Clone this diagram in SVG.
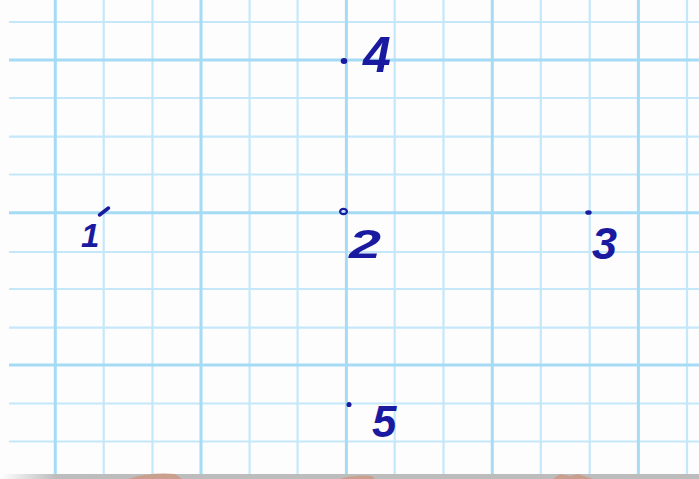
<svg xmlns="http://www.w3.org/2000/svg" width="699" height="479" viewBox="0 0 699 479">
<defs>
<linearGradient id="shadow" x1="0" y1="0" x2="1" y2="0">
<stop offset="0" stop-color="#ffffff"/>
<stop offset="0.08" stop-color="#bdbdbd"/>
<stop offset="1" stop-color="#bcbcbc"/>
</linearGradient>
</defs>
<style>
.thin{stroke:#c4e8f9;stroke-width:2.2}
.thick{stroke:#a6dbf5;stroke-width:3}
.ink{fill:#1a1aa0;font-family:"Liberation Sans","DejaVu Sans",sans-serif;font-style:italic;font-weight:bold}
.dot{fill:#1a1aa0}
.wm{fill:#c9a08e}
</style>
<rect width="699" height="479" fill="#fdfdfd"/>
<g id="grid">
<g class="thin">
<line x1="103.7" y1="0" x2="103.7" y2="474"/>
<line x1="152.5" y1="0" x2="152.5" y2="474"/>
<line x1="249.6" y1="0" x2="249.6" y2="474"/>
<line x1="297.6" y1="0" x2="297.6" y2="474"/>
<line x1="394.7" y1="0" x2="394.7" y2="474"/>
<line x1="443.5" y1="0" x2="443.5" y2="474"/>
<line x1="540.8" y1="0" x2="540.8" y2="474"/>
<line x1="589.7" y1="0" x2="589.7" y2="474"/>
<line x1="687" y1="0" x2="687" y2="474"/>
<line x1="9" y1="22" x2="699" y2="22"/>
<line x1="9" y1="98" x2="699" y2="98"/>
<line x1="9" y1="136.7" x2="699" y2="136.7"/>
<line x1="9" y1="174.5" x2="699" y2="174.5"/>
<line x1="9" y1="252" x2="699" y2="252"/>
<line x1="9" y1="289" x2="699" y2="289"/>
<line x1="9" y1="327.7" x2="699" y2="327.7"/>
<line x1="9" y1="403.5" x2="699" y2="403.5"/>
<line x1="9" y1="441.5" x2="699" y2="441.5"/>
</g>
<g class="thick">
<line x1="55.3" y1="0" x2="55.3" y2="474"/>
<line x1="201" y1="0" x2="201" y2="474"/>
<line x1="346.4" y1="0" x2="346.4" y2="474"/>
<line x1="492.3" y1="0" x2="492.3" y2="474"/>
<line x1="638.4" y1="0" x2="638.4" y2="474"/>
<line x1="9" y1="60" x2="699" y2="60"/>
<line x1="9" y1="212.7" x2="699" y2="212.7"/>
<line x1="9" y1="365" x2="699" y2="365"/>
</g>
</g>
<rect x="0" y="474" width="699" height="5" fill="url(#shadow)"/>
<g id="watermark">
<path class="wm" d="M128,479 Q150,472 175,474 L182,479 Z"/>
<path class="wm" d="M340,479 Q355,474 372,476 L375,479 Z"/>
<path class="wm" d="M553,479 L560,474 L570,476 L578,474 L593,479 Z"/>
</g>
<g id="p1">
<line x1="99.5" y1="215" x2="108.5" y2="208" stroke="#1a1aa0" stroke-width="3.5" stroke-linecap="round"/>
<text class="ink" x="81" y="247" font-size="33">1</text>
</g>
<g id="p2">
<ellipse cx="343.5" cy="211.5" rx="3.4" ry="2.7" fill="none" stroke="#1a1aa0" stroke-width="2.2"/>
<text class="ink" x="349" y="258" font-size="41" textLength="32" lengthAdjust="spacingAndGlyphs">2</text>
</g>
<g id="p3">
<ellipse cx="588.5" cy="212.5" rx="3.2" ry="2.3" class="dot"/>
<text class="ink" x="592" y="259" font-size="45">3</text>
</g>
<g id="p4">
<ellipse cx="344" cy="61" rx="3.3" ry="3" class="dot"/>
<text class="ink" x="363" y="72" font-size="50">4</text>
</g>
<g id="p5">
<ellipse cx="349" cy="404.5" rx="2.5" ry="2.6" class="dot"/>
<text class="ink" x="372" y="437" font-size="44">5</text>
</g>
</svg>
